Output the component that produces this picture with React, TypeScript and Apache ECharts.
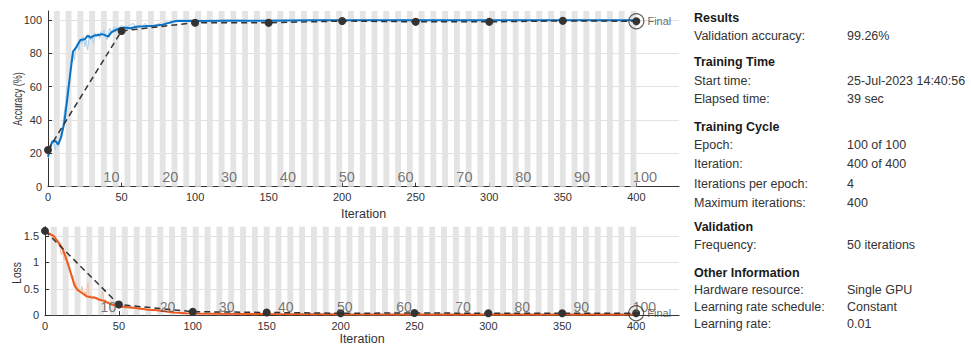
import React, { useEffect, useRef } from 'react';
import * as echarts from 'echarts';

// ---------- data ----------
const xTicks = [0, 50, 100, 150, 200, 250, 300, 350, 400];
const accTicks = [0, 20, 40, 60, 80, 100];
const lossTicks = [0, 0.5, 1, 1.5];
const epochLabels = [10, 20, 30, 40, 50, 60, 70, 80, 90, 100];
const itersPerEpoch = 4;
const numEpochs = 100;

const accRaw: [number, number][] = [
  [0, 17], [1, 20], [2, 24], [3, 28], [4, 26], [5, 22], [6, 27], [7, 24], [8, 28], [9, 33],
  [10, 36], [11, 44], [12, 50], [13, 60], [14, 58], [15, 70], [16, 78], [17, 80], [18, 76], [19, 84],
  [20, 86], [21, 82], [22, 88], [23, 86], [24, 90], [25, 84], [26, 88], [27, 82], [28, 91], [29, 88],
  [30, 90], [31, 86], [32, 92], [33, 90], [34, 92], [35, 89], [36, 93], [37, 91], [38, 94], [39, 90],
  [40, 88], [41, 92], [42, 95], [43, 93], [44, 94], [45, 96], [46, 93], [47, 96], [48, 95], [50, 97],
  [52, 94], [54, 96], [56, 97], [58, 98], [60, 95], [62, 97], [64, 96], [66, 98], [68, 96], [70, 97],
  [72, 96], [75, 98], [78, 97], [80, 99], [84, 98], [88, 100], [92, 99], [96, 100], [100, 100],
  [110, 99.5], [120, 100], [130, 100], [140, 99.5], [150, 100], [175, 100], [200, 100], [250, 100],
  [300, 100], [350, 100], [400, 100],
];
const accSmooth: [number, number][] = [
  [0, 18], [2, 25], [3, 27], [5, 27.4], [7, 25.4], [9, 30], [11, 38], [13, 52], [15, 67], [17, 81],
  [19, 83.4], [22, 88], [25, 88.4], [27, 90.6], [29, 89.4], [31, 90.5], [34, 91], [37, 91.5], [41, 90],
  [43, 92.6], [46, 94], [49, 95], [52, 95.5], [56, 95], [60, 96], [65, 96.2], [72, 96.6], [78, 97.2],
  [81, 98], [86, 99.3], [90, 99.6], [100, 99.4], [120, 99.5], [150, 99.6], [180, 99.8], [200, 99.9],
  [250, 99.8], [300, 99.9], [350, 99.9], [400, 99.9],
];
const accVal: [number, number][] = [
  [0, 22], [50, 93.4], [100, 98.4], [150, 98.3], [200, 99.4], [250, 98.9], [300, 98.9], [350, 99.5], [400, 99.26],
];

const lossRaw: [number, number][] = [
  [0, 1.6], [2, 1.56], [4, 1.5], [6, 1.45], [8, 1.38], [10, 1.3], [11, 1.15], [12, 1.2], [13, 1.05], [14, 1.12],
  [15, 0.95], [16, 1.0], [17, 0.82], [18, 0.7], [19, 0.75], [20, 0.55], [21, 0.62], [22, 0.47], [23, 0.5], [24, 0.42],
  [25, 0.55], [26, 0.38], [27, 0.45], [28, 0.35], [29, 0.62], [30, 0.33], [31, 0.38], [32, 0.3], [33, 0.36], [34, 0.31],
  [35, 0.34], [36, 0.27], [37, 0.32], [38, 0.28], [39, 0.45], [40, 0.25], [41, 0.3], [42, 0.22], [43, 0.27], [44, 0.2],
  [45, 0.22], [46, 0.18], [48, 0.2], [50, 0.15], [52, 0.18], [54, 0.13], [56, 0.16], [58, 0.12], [60, 0.14], [63, 0.11],
  [66, 0.12], [70, 0.09], [74, 0.1], [78, 0.07], [82, 0.08], [86, 0.05], [90, 0.05], [95, 0.03], [100, 0.03],
  [110, 0.025], [125, 0.02], [150, 0.02], [200, 0.01], [250, 0.01], [300, 0.01], [350, 0.01], [400, 0.01],
];
const lossSmooth: [number, number][] = [
  [0, 1.6], [3, 1.55], [6, 1.5], [8, 1.42], [10, 1.35], [12, 1.25], [14, 1.1], [16, 0.93], [18, 0.75], [20, 0.56],
  [22, 0.48], [24, 0.44], [26, 0.4], [28, 0.36], [31, 0.34], [34, 0.33], [37, 0.29], [40, 0.27], [42, 0.24], [45, 0.2],
  [49, 0.17], [53, 0.16], [56, 0.15], [60, 0.14], [65, 0.12], [70, 0.1], [76, 0.09], [82, 0.07], [87, 0.05], [95, 0.035],
  [100, 0.03], [120, 0.025], [150, 0.02], [200, 0.015], [250, 0.012], [300, 0.01], [350, 0.01], [400, 0.01],
];
const lossVal: [number, number][] = [
  [0, 1.6], [50, 0.2], [100, 0.065], [150, 0.05], [200, 0.035], [250, 0.04], [300, 0.035], [350, 0.035], [400, 0.035],
];

const infoHeaders = ['Results', 'Training Time', 'Training Cycle', 'Validation', 'Other Information'];
const infoLabels = [
  ['Validation accuracy:'],
  ['Start time:', 'Elapsed time:'],
  ['Epoch:', 'Iteration:', 'Iterations per epoch:', 'Maximum iterations:'],
  ['Frequency:'],
  ['Hardware resource:', 'Learning rate schedule:', 'Learning rate:'],
];
const infoValues = [
  ['99.26%'],
  ['25-Jul-2023 14:40:56', '39 sec'],
  ['100 of 100', '400 of 400', '4', '400'],
  ['50 iterations'],
  ['Single GPU', 'Constant', '0.01'],
];

// ---------- layout ----------
const headerY = [17.5, 61.5, 127, 227, 273];
const rowY = [[35.5], [80.5, 98.5], [145, 163.5, 184, 203], [245], [289.5, 307, 324]];
const FONT = '"Liberation Sans", Arial, Helvetica, sans-serif';

const bands = [];
for (let e = 2; e <= numEpochs; e += 2) {
  bands.push([{ xAxis: (e - 1) * itersPerEpoch }, { xAxis: e * itersPerEpoch }]);
}

function buildOption() {
  const xAxisCommon = (gi: number) => ({
    type: 'value', gridIndex: gi, min: 0, max: 429,
    axisLine: { show: true, lineStyle: { color: '#333', width: 1 } },
    axisTick: { show: true, inside: true, length: 4, customValues: xTicks, lineStyle: { color: '#333' } },
    axisLabel: { customValues: xTicks, fontSize: 11, color: '#333', margin: 5, fontFamily: FONT },
    splitLine: { show: false },
    name: 'Iteration', nameLocation: 'middle', nameGap: 16,
    nameTextStyle: { fontSize: 12.5, color: '#333', fontFamily: FONT },
  });
  const epochSeries = (gi: number, yv: number, fs: number) => ({
    type: 'scatter', xAxisIndex: gi, yAxisIndex: gi, symbolSize: 1, silent: true, z: 6,
    itemStyle: { color: 'rgba(0,0,0,0)' },
    data: epochLabels.map((e) => [e * itersPerEpoch, yv, e]),
    label: {
      show: true, position: 'right', distance: 0, offset: [-4, 0],
      formatter: (p: any) => String(p.data[2]), fontSize: fs, color: '#555', fontFamily: FONT,
    },
  });
  const finalSeries = (gi: number, pt: [number, number]) => ({
    type: 'scatter', xAxisIndex: gi, yAxisIndex: gi, symbol: 'circle', symbolSize: 15, silent: true, z: 7,
    itemStyle: { color: 'rgba(0,0,0,0)', borderColor: '#333', borderWidth: 1.2 },
    data: [pt],
    label: { show: true, position: 'right', distance: 3, formatter: 'Final', fontSize: 11, color: '#444', fontFamily: FONT },
  });
  const valSeries = (gi: number, d: [number, number][]) => ({
    type: 'line', xAxisIndex: gi, yAxisIndex: gi, data: d, z: 5,
    symbol: 'circle', symbolSize: 8, showSymbol: true,
    lineStyle: { color: '#333', width: 1.5, type: [6, 4] },
    itemStyle: { color: '#333' },
  });

  const graphics: any[] = [
    {
      type: 'text', x: 17, y: 99, rotation: Math.PI / 2, scaleX: 0.72,
      style: { text: 'Accuracy (%)', align: 'center', verticalAlign: 'middle', fontSize: 12.5, fill: '#333', fontFamily: FONT },
    },
    {
      type: 'text', x: 16.5, y: 273, rotation: Math.PI / 2, scaleX: 0.82,
      style: { text: 'Loss', align: 'center', verticalAlign: 'middle', fontSize: 12.5, fill: '#333', fontFamily: FONT },
    },
  ];
  infoHeaders.forEach((h, i) => {
    graphics.push({
      type: 'text', x: 694, y: headerY[i],
      style: { text: h, verticalAlign: 'middle', fontSize: 12.5, fontWeight: 'bold', fill: '#1a1a1a', fontFamily: FONT },
    });
    infoLabels[i].forEach((l, j) => {
      graphics.push({
        type: 'text', x: 694, y: rowY[i][j],
        style: { text: l, verticalAlign: 'middle', fontSize: 12.5, fill: '#333', fontFamily: FONT },
      });
      graphics.push({
        type: 'text', x: 847, y: rowY[i][j],
        style: { text: infoValues[i][j], verticalAlign: 'middle', fontSize: 12.5, fill: '#333', fontFamily: FONT },
      });
    });
  });

  return {
    animation: false,
    backgroundColor: '#fff',
    grid: [
      { left: 48, top: 11, width: 631, height: 175.7 },
      { left: 45, top: 226.7, width: 634, height: 92.6 },
    ],
    xAxis: [xAxisCommon(0), xAxisCommon(1)],
    yAxis: [
      {
        type: 'value', gridIndex: 0, min: 0, max: 105.4, interval: 20,
        axisLine: { show: true, lineStyle: { color: '#333' } },
        axisTick: { show: true, inside: true, length: 4, customValues: accTicks, lineStyle: { color: '#333' } },
        axisLabel: { customValues: accTicks, fontSize: 11, color: '#333', margin: 6, fontFamily: FONT },
        splitLine: { show: true, lineStyle: { color: '#e2e2e2' } },
      },
      {
        type: 'value', gridIndex: 1, min: 0, max: 1.68, interval: 0.5,
        axisLine: { show: true, lineStyle: { color: '#333' } },
        axisTick: { show: true, inside: true, length: 4, customValues: lossTicks, lineStyle: { color: '#333' } },
        axisLabel: { customValues: lossTicks, fontSize: 11, color: '#333', margin: 6, fontFamily: FONT },
        splitLine: { show: true, lineStyle: { color: '#e2e2e2' } },
      },
    ],
    graphic: graphics,
    series: [
      {
        type: 'line', xAxisIndex: 0, yAxisIndex: 0, data: accRaw, symbol: 'none', z: 2,
        lineStyle: { color: '#a9cdea', width: 1 },
        markArea: { silent: true, itemStyle: { color: '#e4e4e4' }, data: bands },
      },
      {
        type: 'line', xAxisIndex: 0, yAxisIndex: 0, data: accSmooth, symbol: 'none', z: 3,
        lineStyle: { color: '#0a72c4', width: 2 },
      },
      valSeries(0, accVal),
      finalSeries(0, accVal[accVal.length - 1]),
      epochSeries(0, 6, 14.5),
      {
        type: 'line', xAxisIndex: 1, yAxisIndex: 1, data: lossRaw, symbol: 'none', z: 2,
        lineStyle: { color: '#f6c0a6', width: 1 },
        markArea: { silent: true, itemStyle: { color: '#e4e4e4' }, data: bands },
      },
      {
        type: 'line', xAxisIndex: 1, yAxisIndex: 1, data: lossSmooth, symbol: 'none', z: 3,
        lineStyle: { color: '#ee5a20', width: 2 },
      },
      valSeries(1, lossVal),
      finalSeries(1, lossVal[lossVal.length - 1]),
      epochSeries(1, 0.15, 14),
    ],
  };
}

export default function App() {
  const ref = useRef<HTMLDivElement>(null);
  useEffect(() => {
    if (!ref.current) return;
    const chart = echarts.init(ref.current, null, { renderer: 'svg' });
    chart.setOption(buildOption() as any);
    return () => chart.dispose();
  }, []);
  return (
    <div
      ref={ref}
      style={{ position: 'absolute', left: 0, top: 0, width: 971, height: 346, background: '#fff' }}
    />
  );
}
